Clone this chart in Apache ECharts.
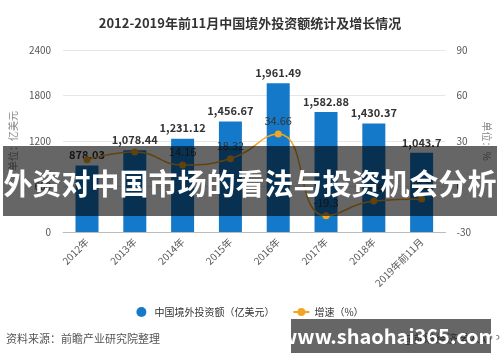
<!DOCTYPE html>
<html><head><meta charset="utf-8">
<script src="https://cdn.jsdelivr.net/npm/echarts@6/dist/echarts.min.js"></script>
<style>html,body{margin:0;padding:0;background:#fff}#c{width:500px;height:362px}</style>
</head><body><div id="c"></div>
<script>
const categories = ['2012年','2013年','2014年','2015年','2016年','2017年','2018年','2019年前11月'];
const investment = [878.03, 1078.44, 1231.12, 1456.67, 1961.49, 1582.88, 1430.37, 1043.7];
const growth = [17.6, 22.8, 14.16, 18.32, 34.66, -19.3, -9.6, -8.2];
const hiddenGrowthLabels = [0, 1];
const leftTicks = [0, 600, 1200, 1800, 2400];
const rightTicks = [-30, 0, 30, 60, 90];

const FF = '"Noto Sans CJK SC", "Noto Sans", sans-serif';
const chart = echarts.init(document.getElementById('c'), null, {renderer:'canvas'});
const fmt = v => v.toLocaleString('en-US', {maximumFractionDigits: 2});
chart.setOption({
  animation: false,
  textStyle: {fontFamily: FF},
  title: {text: '2012-2019年前11月中国境外投资额统计及增长情况', left: 'center', top: 12,
    textStyle: {fontSize: 13, fontWeight: 'bold', color: '#333', fontFamily: FF}},
  grid: {left: 57, right: 50, top: 50, bottom: 130},
  legend: {bottom: 40, left: 'center', itemGap: 18, itemWidth: 16, itemHeight: 10,
    textStyle: {fontSize: 10, color: '#333', fontFamily: FF},
    data: [{name: '中国境外投资额（亿美元）', icon: 'circle'}, {name: '增速（%）'}]},
  xAxis: {type: 'category', data: categories,
    axisLine: {lineStyle: {color: '#bbb'}},
    axisTick: {alignWithLabel: true, lineStyle: {color: '#bbb'}},
    axisLabel: {rotate: 45, fontSize: 10, color: '#555', interval: 0, margin: 8}},
  yAxis: [
    {type: 'value', min: leftTicks[0], max: leftTicks[leftTicks.length-1], interval: 600,
      name: '单位：亿美元', nameLocation: 'middle', nameRotate: 90, nameGap: 40,
      nameTextStyle: {fontSize: 10, color: '#888'},
      axisLine: {show: false}, axisTick: {show: false},
      axisLabel: {fontSize: 10, color: '#555', margin: 12, formatter: v => String(v)},
      splitLine: {lineStyle: {color: '#e6e6e6'}}},
    {type: 'value', min: rightTicks[0], max: rightTicks[rightTicks.length-1], interval: 30,
      name: '单位：%', nameLocation: 'middle', nameRotate: -90, nameGap: 34,
      nameTextStyle: {fontSize: 10, color: '#888'},
      axisLine: {show: false}, axisTick: {show: false},
      axisLabel: {fontSize: 10, color: '#555', margin: 11},
      splitLine: {show: false}}
  ],
  series: [
    {name: '中国境外投资额（亿美元）', type: 'bar', data: investment, barWidth: 23,
      itemStyle: {color: '#1479c9'},
      label: {show: true, position: 'top', fontSize: 11, fontWeight: 'bold', color: '#333',
        formatter: p => fmt(p.value)}},
    {name: '增速（%）', type: 'line', yAxisIndex: 1,
      data: growth.map((v, i) => hiddenGrowthLabels.includes(i) ? {value: v, label: {show: false}} : v),
      smooth: true, symbol: 'circle', symbolSize: 7,
      lineStyle: {color: '#f2a623', width: 1.5}, itemStyle: {color: '#f2a623'},
      label: {show: true, position: 'top', fontSize: 11, color: '#333', distance: 4}}
  ],
  graphic: [
    {type: 'text', left: 6, top: 333, z: 50,
      style: {text: '资料来源：前瞻产业研究院整理', fill: '#555', font: '11px ' + FF}},
    {type: 'text', right: 0, top: 333, z: 50,
      style: {text: '@前瞻经济学人APP', fill: '#777', font: '11px ' + FF}},
    {type: 'rect', shape: {x: 3, y: 146, width: 494, height: 70}, z: 100,
      style: {fill: 'rgba(0,0,0,0.6)'}},
    {type: 'text', x: 250, y: 184, z: 101,
      style: {text: '外资对中国市场的看法与投资机会分析', fill: '#fff', align: 'center', verticalAlign: 'middle',
        font: 'bold 29px ' + FF}},
    {type: 'rect', shape: {x: 291, y: 319, width: 200, height: 34}, z: 100,
      style: {fill: 'rgba(0,0,0,0.6)'}},
    {type: 'text', x: 389, y: 336, z: 101,
      style: {text: 'www.shaohai365.com', fill: '#fff', align: 'center', verticalAlign: 'middle',
        font: 'bold 20px ' + FF}}
  ]
});
</script></body></html>
